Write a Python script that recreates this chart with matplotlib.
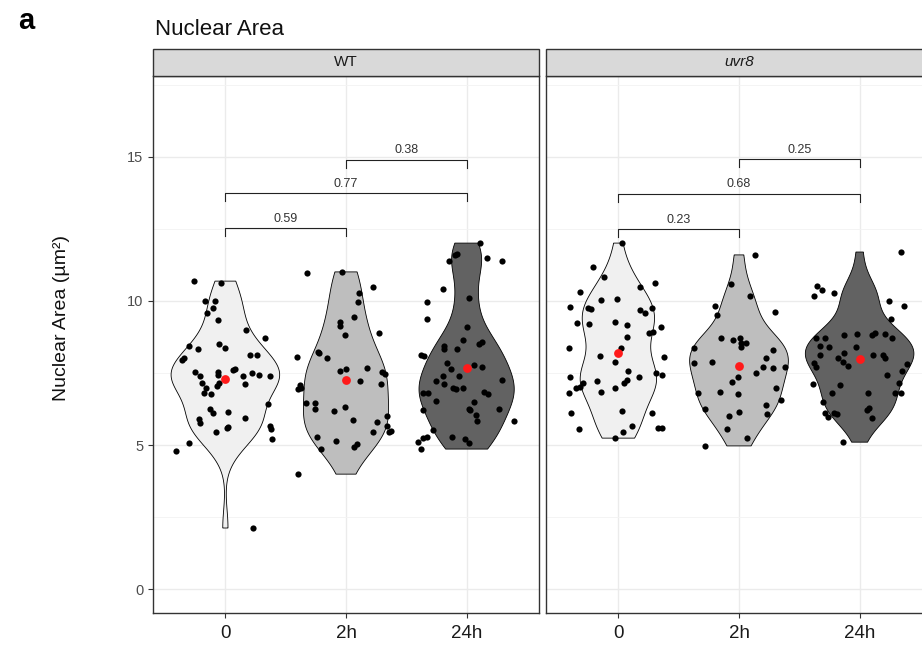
import numpy as np
import matplotlib
matplotlib.use("Agg")
import matplotlib.pyplot as plt
from matplotlib.patches import Rectangle

plt.rcParams['font.family'] = ['Liberation Sans', 'DejaVu Sans']

# ---------------- data ----------------
categories = ["0", "2h", "24h"]
panels = ["WT", "uvr8"]

# WT
wt_0_y = [10.69, 10.63, 10.0, 10.0, 9.76, 9.58, 9.34, 8.99, 8.72, 8.44, 8.33, 8.51, 8.37, 8.02, 7.95,
          8.13, 8.13, 7.53, 7.40, 7.53, 7.43, 7.60, 7.64, 7.40, 7.50, 7.43, 7.40, 7.12, 7.15, 6.98,
          6.81, 6.77, 7.05, 7.15, 6.42, 6.25, 6.11, 6.15, 5.90, 5.76, 5.94, 5.66, 5.56, 5.45, 5.63,
          5.59, 5.21, 5.07, 4.79, 2.12]
wt_0_jit = [-0.26, -0.04, -0.17, -0.09, -0.10, -0.15, -0.06, 0.17, 0.33, -0.30, -0.23, -0.05, 0.0, -0.34, -0.36,
            0.20, 0.26, -0.25, -0.21, -0.06, -0.06, 0.06, 0.08, 0.15, 0.22, 0.28, 0.37, 0.16, -0.19, -0.16,
            -0.18, -0.12, -0.07, -0.05, 0.35, -0.13, -0.10, 0.02, -0.22, -0.21, 0.16, 0.37, 0.38, -0.08, 0.02,
            0.01, 0.39, -0.30, -0.41, 0.23]

wt_2h_y = [10.97, 11.01, 10.49, 10.28, 9.97, 9.44, 9.27, 9.13, 8.82, 8.89, 8.23, 8.19, 8.02, 8.06, 7.57,
           7.64, 7.67, 7.53, 7.47, 7.22, 7.12, 7.08, 6.98, 6.94, 6.46, 6.46, 6.25, 6.18, 6.32, 5.87,
           5.80, 6.01, 5.66, 5.45, 5.49, 5.45, 5.28, 5.14, 5.03, 4.93, 4.86, 3.99]
wt_2h_jit = [-0.32, -0.03, 0.22, 0.11, 0.10, 0.07, -0.05, -0.05, -0.01, 0.27, -0.23, -0.22, -0.16, -0.41, -0.05,
             0.0, 0.17, 0.30, 0.32, 0.12, 0.29, -0.38, -0.37, -0.40, -0.33, -0.26, -0.26, -0.10, -0.01, 0.06,
             0.26, 0.34, 0.34, 0.36, 0.37, 0.22, -0.24, -0.08, 0.09, 0.07, -0.21, -0.40]

wt_24h_y = [12.01, 11.63, 11.60, 11.39, 11.49, 11.39, 10.42, 9.97, 10.10, 9.38, 9.10, 8.65, 8.44, 8.33, 8.33,
            8.51, 8.58, 8.13, 8.09, 7.85, 7.64, 7.78, 7.71, 7.40, 7.22, 7.12, 7.40, 6.98, 6.94, 6.98,
            7.26, 6.81, 6.81, 6.84, 6.77, 6.53, 6.49, 6.25, 6.22, 6.22, 6.04, 5.83, 6.25, 5.83, 5.52,
            5.28, 5.24, 5.10, 4.86, 5.28, 5.21, 5.07]
wt_24h_jit = [0.11, -0.08, -0.10, -0.15, 0.17, 0.29, -0.20, -0.33, 0.02, -0.33, 0.0, -0.03, -0.19, -0.19, -0.08,
              0.10, 0.13, -0.38, -0.35, -0.16, -0.13, 0.06, 0.13, -0.20, -0.25, -0.19, -0.06, -0.11, -0.09, -0.03,
              0.29, -0.36, -0.32, 0.14, 0.18, -0.25, 0.06, 0.02, 0.03, -0.36, 0.08, 0.09, 0.27, 0.39, -0.28,
              -0.33, -0.36, -0.40, -0.38, -0.12, -0.01, 0.02]

# uvr8
uvr8_0_y = [12.01, 11.18, 10.83, 10.31, 10.63, 10.49, 9.79, 9.76, 9.72, 10.03, 10.07, 9.69, 9.58, 9.76, 9.24,
            9.20, 9.27, 9.17, 9.10, 8.89, 8.92, 8.75, 8.37, 8.37, 8.09, 7.88, 8.06, 7.57, 7.36, 7.36,
            7.50, 7.43, 7.22, 7.26, 7.15, 7.15, 7.01, 6.98, 6.98, 6.81, 6.84, 6.11, 6.18, 6.11, 5.56,
            5.45, 5.66, 5.59, 5.59, 5.24]
uvr8_0_jit = [0.03, -0.21, -0.12, -0.32, 0.30, 0.18, -0.40, -0.25, -0.23, -0.14, -0.01, 0.18, 0.22, 0.28, -0.34,
              -0.24, -0.03, 0.07, 0.35, 0.25, 0.29, 0.07, -0.41, 0.02, -0.15, -0.03, 0.38, 0.08, -0.40, 0.17,
              0.31, 0.36, -0.18, 0.07, 0.05, -0.29, -0.32, -0.35, -0.03, -0.41, -0.14, -0.39, 0.03, 0.28, -0.33,
              0.04, 0.11, 0.33, 0.36, -0.03]

uvr8_2h_y = [11.60, 10.59, 10.17, 9.83, 9.51, 9.62, 8.72, 8.65, 8.72, 8.54, 8.54, 8.40, 8.37, 8.30, 7.85,
             7.88, 7.36, 7.19, 7.50, 7.71, 8.02, 7.67, 7.71, 6.98, 6.81, 6.84, 6.77, 6.56, 6.25, 6.01,
             6.15, 6.39, 6.08, 5.56, 5.24, 4.97]
uvr8_2h_jit = [0.13, -0.07, 0.09, -0.20, -0.18, 0.30, -0.15, -0.05, 0.01, 0.02, 0.06, 0.02, -0.37, 0.28, -0.37,
               -0.22, -0.01, -0.06, 0.14, 0.20, 0.22, 0.28, 0.38, 0.31, -0.34, -0.16, -0.01, 0.35, -0.28, -0.08,
               0.0, 0.22, 0.23, -0.10, 0.07, -0.28]

uvr8_24h_y = [11.70, 10.52, 10.38, 10.17, 10.28, 10.0, 9.83, 9.38, 8.72, 8.72, 8.82, 8.85, 8.82, 8.89, 8.85,
              8.72, 8.44, 8.40, 8.40, 8.13, 7.85, 7.71, 8.02, 8.19, 7.88, 7.74, 8.13, 8.13, 8.02, 7.81,
              7.57, 7.43, 7.12, 7.08, 6.81, 6.81, 6.81, 7.15, 6.81, 6.49, 6.28, 6.22, 5.94, 6.11, 5.97,
              6.11, 6.08, 5.10]
uvr8_24h_jit = [0.34, -0.35, -0.31, -0.38, -0.21, 0.24, 0.37, 0.26, -0.36, -0.29, -0.13, -0.02, 0.10, 0.13, 0.21,
                0.27, -0.33, -0.25, -0.03, -0.33, -0.38, -0.36, -0.18, -0.13, -0.14, -0.10, 0.11, 0.19, 0.21, 0.39,
                0.35, 0.23, -0.39, -0.16, 0.07, -0.23, 0.29, 0.33, 0.34, -0.30, 0.08, 0.06, 0.10, -0.29, -0.26,
                -0.21, -0.19, -0.14]

# p-value brackets: (from, to, label, height)
wt_brackets_from = [0, 0, 1]
wt_brackets_to = [1, 2, 2]
wt_brackets_label = ["0.59", "0.77", "0.38"]
wt_brackets_y = [12.53, 13.75, 14.90]
uvr8_brackets_from = [0, 0, 1]
uvr8_brackets_to = [1, 2, 2]
uvr8_brackets_label = ["0.23", "0.68", "0.25"]
uvr8_brackets_y = [12.50, 13.72, 14.93]

y_ticks = [0, 5, 10, 15]
fill_colors = ["#F0F0F0", "#BEBEBE", "#626262"]

# ---------------- helpers ----------------
def kde_nrd0(vals, npts=512):
    v = np.asarray(vals, float)
    n = len(v)
    sd = np.std(v, ddof=1)
    q75, q25 = np.percentile(v, [75, 25])
    lo = min(sd, (q75 - q25) / 1.34)
    bw = 0.9 * lo * n ** -0.2
    grid = np.linspace(v.min(), v.max(), npts)
    dens = np.exp(-0.5 * ((grid[:, None] - v[None, :]) / bw) ** 2).sum(1) / (n * bw * np.sqrt(2 * np.pi))
    return grid, dens

GRID = "#EBEBEB"
DARK = "#333333"

fig = plt.figure(figsize=(9.22, 6.49), dpi=100)
W, H = 922, 649

def add_axes_px(x0, y0, x1, y1):
    return fig.add_axes([x0 / W, 1 - y1 / H, (x1 - x0) / W, (y1 - y0) / H])

ax1 = add_axes_px(153, 76, 539, 613)
ax2 = add_axes_px(546, 76, 932, 613)

panel_data = [
    ([wt_0_y, wt_2h_y, wt_24h_y], [wt_0_jit, wt_2h_jit, wt_24h_jit],
     wt_brackets_from, wt_brackets_to, wt_brackets_label, wt_brackets_y),
    ([uvr8_0_y, uvr8_2h_y, uvr8_24h_y], [uvr8_0_jit, uvr8_2h_jit, uvr8_24h_jit],
     uvr8_brackets_from, uvr8_brackets_to, uvr8_brackets_label, uvr8_brackets_y),
]

for pi, (ax, (ys, jits, bf, bt, bl, by)) in enumerate(zip([ax1, ax2], panel_data)):
    ax.set_xlim(-0.6, 2.6)
    ax.set_ylim(-0.83, 17.81)
    ax.set_facecolor("white")
    ax.set_xticks(range(len(categories)))
    ax.set_xticklabels(categories, fontsize=13.5, color="#1A1A1A")
    ax.set_yticks(y_ticks)
    ax.set_yticks([2.5, 7.5, 12.5, 17.5], minor=True)
    ax.set_xticks([], minor=True)
    ax.grid(True, which="major", color=GRID, lw=1.0, zorder=0)
    ax.grid(True, which="minor", axis="y", color="#F3F3F3", lw=0.6, zorder=0)
    ax.set_axisbelow(True)
    ax.tick_params(axis="both", which="major", length=3.5, width=0.8, color=DARK)
    ax.tick_params(axis="y", which="minor", length=0)
    ax.tick_params(axis="x", pad=5)
    if pi == 0:
        ax.set_yticklabels([str(t) for t in y_ticks], fontsize=10.5, color="#4D4D4D")
    else:
        ax.tick_params(axis="y", which="major", length=0, labelleft=False)
    for s in ax.spines.values():
        s.set_color(DARK)
        s.set_linewidth(1.0)

    # violins
    dens_all = [kde_nrd0(v) for v in ys]
    maxd = max(d.max() for _, d in dens_all)
    for gi, (grid, dens) in enumerate(dens_all):
        w = dens / maxd * 0.45
        xs = np.concatenate([gi - w, (gi + w)[::-1]])
        yy = np.concatenate([grid, grid[::-1]])
        ax.fill(xs, yy, facecolor=fill_colors[gi], edgecolor="black", lw=0.6, zorder=2)
    # jittered points
    for gi, (v, j) in enumerate(zip(ys, jits)):
        ax.scatter(gi + np.asarray(j), v, s=20, color="black", lw=0, zorder=3)
    # means
    for gi, v in enumerate(ys):
        ax.scatter([gi], [np.mean(v)], s=40, color="#FF1A1A", lw=0, zorder=4)
    # brackets
    for f, t, lab, yb in zip(bf, bt, bl, by):
        ax.plot([f, f, t, t], [yb - 0.28, yb, yb, yb - 0.28], color="#222222", lw=0.8, zorder=3)
        ax.text((f + t) / 2, yb + 0.12, lab, ha="center", va="bottom", fontsize=9, color="#333333")

    # strip
    strip_h = 27 / 537
    ax.add_patch(Rectangle((0, 1), 1, strip_h, transform=ax.transAxes, facecolor="#D9D9D9",
                           edgecolor=DARK, lw=1.0, clip_on=False, zorder=5))
    ax.text(0.5, 1 + strip_h / 2, panels[pi], transform=ax.transAxes, ha="center", va="center",
            fontsize=11, color="#1A1A1A", style=("italic" if pi == 1 else "normal"), zorder=6)

fig.text(18 / W, 1 - 29 / H, "a", fontsize=21, fontweight="bold", ha="left", va="baseline")
fig.text(155 / W, 1 - 35 / H, "Nuclear Area", fontsize=16, ha="left", va="baseline", color="#111111")
fig.text(62 / W, 1 - 318 / H, "Nuclear Area (µm²)", fontsize=14, rotation=90, ha="center", va="center",
         color="#111111")

fig.savefig("out.png", dpi=100)
